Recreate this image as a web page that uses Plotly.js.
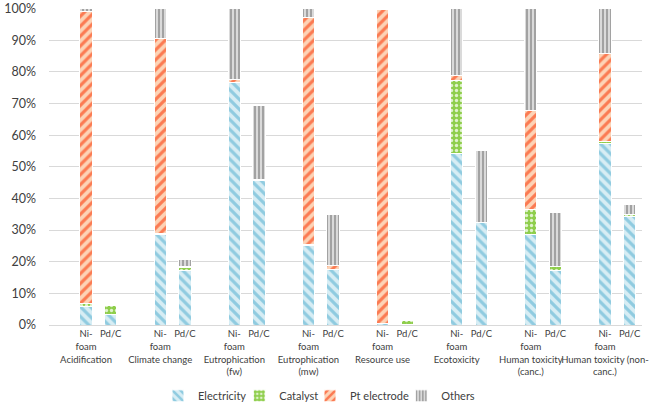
<!DOCTYPE html>
<html><head><meta charset="utf-8">
<script src="https://cdn.plot.ly/plotly-3.0.1.min.js"></script>
<style>html,body{margin:0;padding:0;background:#fff}</style>
</head><body><div id="chart" style="width:661px;height:406px"></div>
<script>
const groups = ["Acidification","Climate change","Eutrophication<br>(fw)","Eutrophication<br>(mw)","Resource use","Ecotoxicity","Human toxicity<br>(canc.)","Human toxicity (non-<br>canc.)"];
const subLabels = ["Ni-<br>foam","Pd/C"];
const seriesNames = ["Electricity","Catalyst","Pt electrode","Others"];
const yTicks = [0,10,20,30,40,50,60,70,80,90,100];
// values in % of the Ni-foam total, per impact category
const electricityNi = [5.7, 28.7, 76.7, 25.1, 0.4, 54.2, 28.7, 57.4];
const electricityPd = [3.2, 17.2, 45.8, 17.4, 0.1, 32.3, 17.1, 34.2];
const catalystNi    = [1.2, 0.3, 0.1, 0.2, 0.0, 23.1, 7.9, 0.7];
const catalystPd    = [2.9, 1.0, 0.1, 0.3, 1.4, 0.1, 1.3, 0.6];
const ptNi          = [92.3, 61.6, 0.8, 71.8, 99.3, 1.6, 31.3, 27.8];
const ptPd          = [0.0, 0.2, 0.0, 1.1, 0.0, 0.0, 0.0, 0.0];
const othersNi      = [0.8, 9.4, 22.4, 2.9, 0.3, 21.1, 32.1, 14.1];
const othersPd      = [0.1, 2.3, 23.5, 16.0, 0.0, 22.8, 17.3, 3.4];

const styles = [
  {shape:"\\", fg:"#8fcbe0", bg:"#d7edf4", size:7, sol:0.45},
  {shape:".",  fg:"#dff2cc", bg:"#8fce4c", size:5, sol:0.35},
  {shape:"/",  fg:"#fb7a52", bg:"#fdd3b6", size:7, sol:0.45},
  {shape:"|",  fg:"#9c9c9c", bg:"#dadada", size:4, sol:0.45}
];
const legendIds = ["legend", "legend2", "legend3", "legend4"];
const legendX = [0.239, 0.362, 0.469, 0.607];
const ni = [electricityNi, catalystNi, ptNi, othersNi];
const pd = [electricityPd, catalystPd, ptPd, othersPd];

const xg = [], xs = [];
groups.forEach(g => { xg.push(g,g,g); xs.push(" ", subLabels[0], subLabels[1]); });

const traces = seriesNames.map((name, k) => {
  const y = [];
  groups.forEach((g, i) => { y.push(null, ni[k][i], pd[k][i]); });
  const s = styles[k];
  return {
    type: "bar", name: name, x: [xg, xs], y: y, legend: legendIds[k],
    marker: {color: s.bg, line: {color: "#ffffff", width: 1},
      pattern: {shape: s.shape, fgcolor: s.fg, bgcolor: s.bg, size: s.size, solidity: s.sol, fillmode: "replace"}},
    hoverinfo: "skip"
  };
});

const layout = {
  width: 661, height: 406,
  margin: {l: 49, r: 19, t: 8, b: 81},
  barmode: "stack", bargap: 0.5,
  paper_bgcolor: "#fff", plot_bgcolor: "#fff",
  font: {family: "Lato, 'Open Sans', sans-serif", color: "#404040"},
  xaxis: {type: "multicategory", showdividers: false, ticks: "", showgrid: false, tickangle: 0, automargin: false,
    showline: true, linecolor: "#d9d9d9", tickfont: {size: 9.5, color: "#404040"}},
  yaxis: {range: [0, 100.2], tickmode: "array", tickvals: yTicks, ticktext: yTicks.map(v => v + "%"),
    showgrid: true, gridcolor: "#d9d9d9", automargin: false, ticklabelstandoff: 12,
    zeroline: false, showline: false, tickfont: {size: 12.5, color: "#404040"}, ticks: ""},
  showlegend: true
};
legendIds.forEach((id, k) => {
  layout[id] = {orientation: "h", xref: "container", yref: "container", x: legendX[k], xanchor: "left",
    y: 0.025, yanchor: "middle", font: {size: 11, color: "#404040"}, itemwidth: 30, bgcolor: "rgba(0,0,0,0)"};
});
Plotly.newPlot("chart", traces, layout, {displayModeBar: false, staticPlot: true});
</script></body></html>
